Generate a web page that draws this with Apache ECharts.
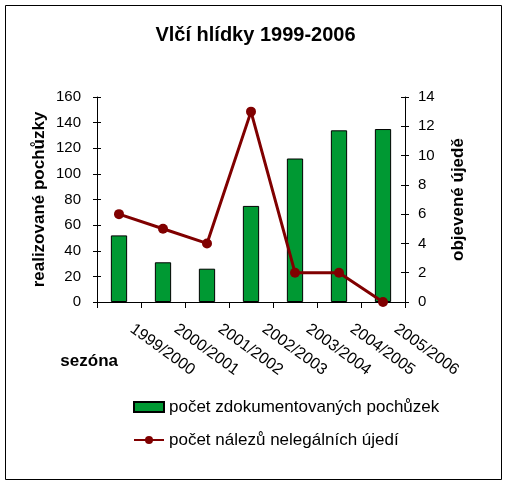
<!DOCTYPE html>
<html>
<head>
<meta charset="utf-8">
<script src="https://cdn.jsdelivr.net/npm/echarts@6/dist/echarts.min.js"></script>
<style>
html,body{margin:0;padding:0;background:#fff;}
#chart{width:511px;height:490px;}
</style>
</head>
<body>
<div id="chart"></div>
<script>
const title = 'Vlčí hlídky 1999-2006';
const categories = ['1999/2000','2000/2001','2001/2002','2002/2003','2003/2004','2004/2005','2005/2006'];
const walks = [52, 31, 26, 75, 112, 134, 135];
const carcasses = [6, 5, 4, 13, 2, 2, 0];
const barName = 'počet zdokumentovaných pochůzek';
const lineName = 'počet nálezů nelegálních újedí';
const leftAxisName = 'realizované pochůzky';
const rightAxisName = 'objevené újedě';
const xAxisName = 'sezóna';

const FONT = '"Liberation Sans", Arial, sans-serif';
const chart = echarts.init(document.getElementById('chart'), null, {renderer:'canvas'});
const axisCommon = {
  axisLine:{show:true, lineStyle:{color:'#000', width:1}},
  splitLine:{show:false},
  axisLabel:{color:'#000', fontFamily:FONT, fontSize:15}
};
chart.setOption({
  animation:false,
  backgroundColor:'#fff',
  textStyle:{fontFamily:FONT, color:'#000'},
  title:{
    text:title, left:'center', top:20,
    textStyle:{fontFamily:FONT, fontSize:20, fontWeight:'bold', color:'#000'}
  },
  graphic:[{
    type:'rect', shape:{x:5.5, y:5.5, width:496, height:474},
    style:{fill:null, stroke:'#000', lineWidth:1}, silent:true, z:-1
  }],
  grid:{left:97, right:106, top:97, bottom:188, containLabel:false},
  legend:{
    orient:'vertical', left:133, top:398, padding:0,
    itemWidth:30, itemHeight:10, itemGap:15,
    textStyle:{fontFamily:FONT, fontSize:17, color:'#000', lineHeight:18, padding:[0,0,0,0]},
    data:[{name:barName, icon:'rect'}, {name:lineName}]
  },
  xAxis:[{
    type:'category', data:categories, boundaryGap:true,
    axisLine:{show:true, lineStyle:{color:'#000'}},
    axisTick:{show:true, length:6, lineStyle:{color:'#000'}},
    axisLabel:{color:'#000', fontFamily:FONT, fontSize:16, rotate:-36, margin:16, interval:0, padding:[0,0,0,16]},
    name:xAxisName, nameLocation:'start', nameGap:-21, nameMoveOverlap:false,
    nameTextStyle:{fontFamily:FONT, fontSize:17, fontWeight:'bold', color:'#000', align:'right', verticalAlign:'top', padding:[51,0,0,0]}
  }],
  yAxis:[
    Object.assign({}, axisCommon, {
      type:'value', position:'left', min:0, max:160, interval:20,
      axisTick:{show:true, inside:false, length:4, lineStyle:{color:'#000'}},
      axisLabel:Object.assign({}, axisCommon.axisLabel, {margin:16}),
      name:leftAxisName, nameLocation:'middle', nameRotate:90, nameGap:49, nameMoveOverlap:false,
      nameTextStyle:{fontFamily:FONT, fontSize:17, fontWeight:'bold', color:'#000'}
    }),
    Object.assign({}, axisCommon, {
      type:'value', position:'right', min:0, max:14, interval:2,
      axisTick:{show:true, inside:false, length:4, lineStyle:{color:'#000'}},
      axisLabel:Object.assign({}, axisCommon.axisLabel, {margin:13}),
      name:rightAxisName, nameLocation:'middle', nameRotate:90, nameGap:45, nameMoveOverlap:false,
      nameTextStyle:{fontFamily:FONT, fontSize:17, fontWeight:'bold', color:'#000'}
    }),
    {type:'value', position:'left', min:0, max:160, interval:20,
     axisLine:{show:false}, splitLine:{show:false}, axisLabel:{show:false},
     axisTick:{show:true, inside:true, length:4, lineStyle:{color:'#000'}}},
    {type:'value', position:'right', min:0, max:14, interval:2,
     axisLine:{show:false}, splitLine:{show:false}, axisLabel:{show:false},
     axisTick:{show:true, inside:true, length:4, lineStyle:{color:'#000'}}}
  ],
  series:[
    {
      name:barName, type:'bar', yAxisIndex:0, data:walks, barWidth:'37%',
      itemStyle:{color:'#009933', borderColor:'#000', borderWidth:1}
    },
    {
      name:lineName, type:'line', yAxisIndex:1, data:carcasses,
      symbol:'circle', symbolSize:10, showSymbol:true,
      lineStyle:{color:'#800000', width:3},
      itemStyle:{color:'#800000'}
    }
  ]
});
</script>
</body>
</html>
